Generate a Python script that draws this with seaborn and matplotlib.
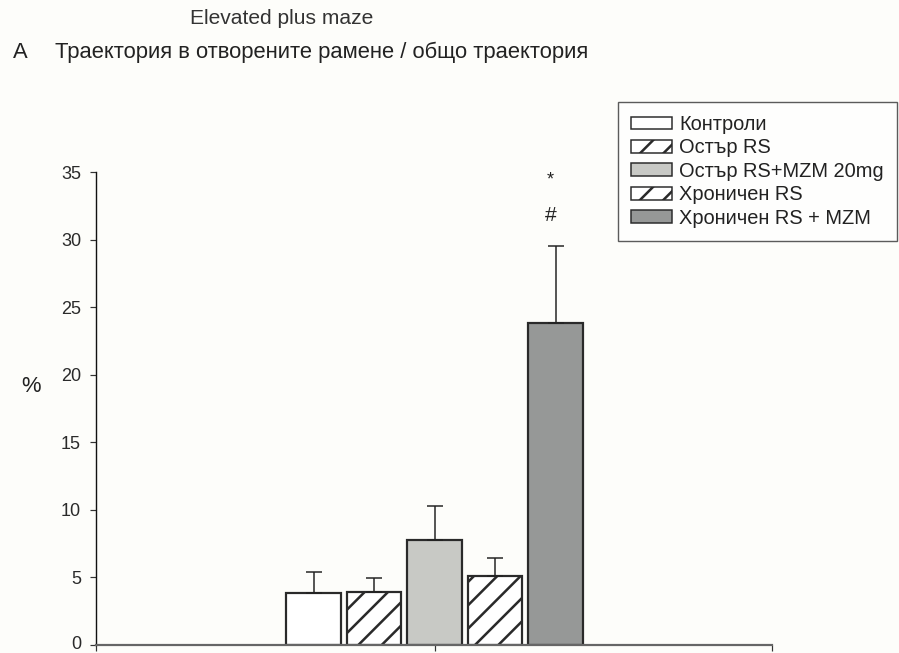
import numpy as np
import pandas as pd
import seaborn as sns
import matplotlib.pyplot as plt
from matplotlib.patches import Patch
from matplotlib.transforms import ScaledTranslation

# Group labels, means and upper error (SEM) per group
groups = ["Контроли", "Остър RS", "Остър RS+MZM 20mg", "Хроничен RS", "Хроничен RS + MZM"]
means = [3.85, 3.95, 7.8, 5.1, 23.85]
sems = [1.55, 1.0, 2.5, 1.35, 5.65]
fills = ["#ffffff", "#ffffff", "#c8c9c5", "#ffffff", "#969897"]
hatches = ["", "//", "", "//", ""]
# significance marks over the last group
sig_marks = ["*", "#"]
sig_levels = [34.4, 31.8]
yticks = [0, 5, 10, 15, 20, 25, 30, 35]

DPI = 140
W, H = 899, 653
def px(v):
    return v * 72.0 / DPI

sns.set_style("white")
plt.rcParams["font.family"] = ["Liberation Sans", "DejaVu Sans"]
plt.rcParams["hatch.linewidth"] = 1.3
plt.rcParams["hatch.color"] = "#222222"

bg = "#fdfdfa"
fig = plt.figure(figsize=(W / DPI, H / DPI), dpi=DPI, facecolor=bg)
ax = fig.add_axes([96 / W, 8 / H, (772 - 96) / W, (645 - 172) / H])
ax.set_facecolor(bg)

df = pd.DataFrame({"group": groups, "mean": means})
sns.barplot(data=df, x="group", y="mean", hue="group", order=groups,
            hue_order=groups, palette=fills, errorbar=None, width=0.893,
            edgecolor="#2a2a2a", linewidth=px(2.2), legend=False, ax=ax,
            saturation=1)
for patch, h in zip(ax.patches, hatches):
    patch.set_hatch(h)

xpos = np.arange(len(groups))
ax.errorbar(xpos, means, yerr=[np.zeros(len(sems)), sems], fmt="none",
            ecolor="#222222", elinewidth=px(1.5), capsize=px(8),
            capthick=px(1.5), zorder=1)

for m, lvl, fs in zip(sig_marks, sig_levels, [18, 21]):
    ax.text(xpos[-1] - 0.08, lvl, m, ha="center", va="center",
            fontsize=px(fs), color="#222222")

xlo, xhi = 2 - (434.5 - 96) / 60.5, 2 + (772 - 434.5) / 60.5
ax.set_xlim(xlo, xhi)
ax.set_ylim(0, 35)
ax.set_xticks([xlo, 2, xhi])
ax.set_xticklabels(["", "", ""])
ax.set_yticks(yticks)
ax.set_yticklabels([str(t) for t in yticks], fontsize=px(18), color="#2a2a2a")
ax.set_xlabel("")
ax.set_ylabel("")
ax.tick_params(axis="y", direction="out", length=px(6), width=px(1.2),
               color="#333333", pad=px(9), left=True)
ax.tick_params(axis="x", direction="out", length=px(6), width=px(1.2),
               color="#333333", bottom=True)
for s in ["top", "right"]:
    ax.spines[s].set_visible(False)
ax.spines["left"].set_color("#111111")
ax.spines["left"].set_linewidth(px(1.4))
ax.spines["bottom"].set_color("#666666")
ax.spines["bottom"].set_linewidth(px(2.2))

# lift the "0" label a touch so it stays inside the figure
zero_lab = ax.yaxis.get_major_ticks()[0].label1
zero_lab.set_transform(zero_lab.get_transform()
                       + ScaledTranslation(0, 2.5 / DPI, fig.dpi_scale_trans))

fig.text(282 / W, 1 - 18 / H, "Elevated plus maze", ha="center", va="center",
         fontsize=px(21), color="#333333")
fig.text(13 / W, 1 - 53 / H, "A", ha="left", va="center",
         fontsize=px(22), color="#222222")
fig.text(55 / W, 1 - 52 / H, "Траектория в отворените рамене / общо траектория",
         ha="left", va="center", fontsize=px(22), color="#222222")
fig.text(31 / W, 1 - 387 / H, "%", ha="center", va="center",
         fontsize=px(22), color="#222222")

handles = [Patch(facecolor=f, edgecolor="#2a2a2a", hatch=h, linewidth=px(1.5))
           for f, h in zip(fills, hatches)]
leg = fig.legend(handles, groups, loc="upper left",
                 bbox_to_anchor=(618 / W, 1 - 102 / H), borderaxespad=0,
                 fontsize=px(20), handlelength=2.05, handleheight=0.6,
                 handletextpad=0.35, labelspacing=0.22, borderpad=0.65,
                 fancybox=False, frameon=True)
leg.get_frame().set_edgecolor("#333333")
leg.get_frame().set_linewidth(px(1.4))
leg.get_frame().set_facecolor("#ffffff")
for t in leg.get_texts():
    t.set_color("#222222")

fig.savefig("out.png", dpi=DPI, facecolor=bg)
